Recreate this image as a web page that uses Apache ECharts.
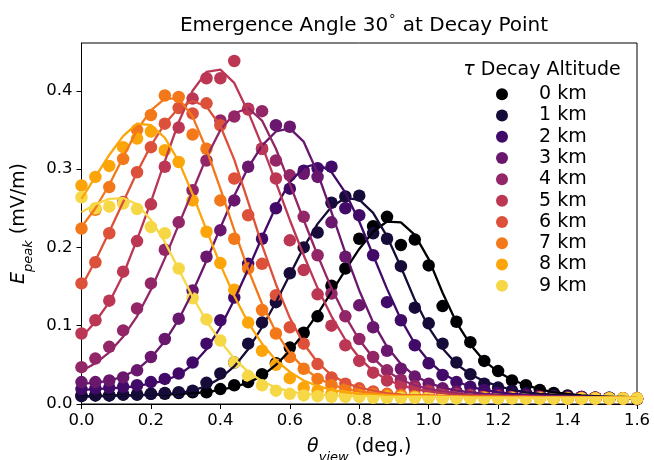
<!DOCTYPE html>
<html>
<head>
<meta charset="utf-8">
<script src="https://cdn.jsdelivr.net/npm/echarts@6/dist/echarts.min.js"></script>
<style>
  html, body { margin: 0; padding: 0; background: #fff; }
  #chart { width: 654px; height: 460px; }
</style>
</head>
<body>
<div id="chart"></div>
<script>
// viewing angle grid (deg.)
var thetaView = [0.00, 0.04, 0.08, 0.12, 0.16, 0.20, 0.24, 0.28, 0.32, 0.36,
  0.40, 0.44, 0.48, 0.52, 0.56, 0.60, 0.64, 0.68, 0.72, 0.76,
  0.80, 0.84, 0.88, 0.92, 0.96, 1.00, 1.04, 1.08, 1.12, 1.16,
  1.20, 1.24, 1.28, 1.32, 1.36, 1.40, 1.44, 1.48, 1.52, 1.56, 1.60];

var altitudes = ['0 km', '1 km', '2 km', '3 km', '4 km', '5 km', '6 km', '7 km', '8 km', '9 km'];
var colors = ['#000004', '#160b39', '#420a68', '#6a176e', '#932667',
  '#bc3754', '#dd513a', '#f37819', '#fca50a', '#f6d746'];

// simulated peak field (points)
var peak0 = [0.011,0.011,0.011,0.012,0.012,0.013,0.013,0.014,0.015,0.015,
  0.019,0.024,0.028,0.038,0.052,0.072,0.091,0.112,0.151,0.173,
  0.211,0.227,0.239,0.203,0.210,0.177,0.125,0.105,0.079,0.055,
  0.042,0.030,0.024,0.018,0.014,0.011,0.009,0.008,0.007,0.007,0.006];
var peak1 = [0.010,0.011,0.011,0.012,0.012,0.013,0.014,0.015,0.017,0.027,
  0.039,0.053,0.077,0.104,0.130,0.167,0.200,0.219,0.257,0.265,
  0.266,0.218,0.211,0.176,0.123,0.103,0.077,0.053,0.038,0.026,
  0.021,0.017,0.014,0.012,0.011,0.010,0.009,0.008,0.008,0.007,0.007];
var peak2 = [0.019,0.020,0.021,0.022,0.024,0.028,0.032,0.039,0.053,0.077,
  0.107,0.136,0.179,0.211,0.250,0.275,0.298,0.301,0.303,0.250,
  0.241,0.190,0.130,0.107,0.075,0.052,0.037,0.028,0.022,0.018,
  0.015,0.013,0.012,0.011,0.010,0.009,0.009,0.008,0.008,0.007,0.007];
var peak3 = [0.028,0.028,0.030,0.034,0.043,0.060,0.083,0.109,0.145,0.188,
  0.222,0.260,0.303,0.326,0.356,0.354,0.294,0.290,0.232,0.188,
  0.126,0.098,0.068,0.045,0.035,0.026,0.020,0.016,0.013,0.012,
  0.011,0.010,0.010,0.009,0.009,0.008,0.008,0.008,0.007,0.007,0.007];
var peak4 = [0.047,0.058,0.073,0.094,0.122,0.154,0.197,0.232,0.273,0.311,
  0.362,0.367,0.377,0.374,0.311,0.292,0.239,0.190,0.141,0.112,
  0.083,0.060,0.043,0.031,0.023,0.018,0.015,0.013,0.011,0.010,
  0.010,0.009,0.009,0.009,0.008,0.008,0.008,0.008,0.007,0.007,0.007];
var peak5 = [0.090,0.107,0.132,0.169,0.208,0.255,0.303,0.353,0.390,0.416,
  0.416,0.438,0.376,0.326,0.288,0.209,0.171,0.140,0.100,0.075,
  0.055,0.040,0.030,0.024,0.019,0.016,0.014,0.012,0.011,0.010,
  0.010,0.009,0.009,0.009,0.008,0.008,0.008,0.008,0.007,0.007,0.007];
var peak6 = [0.154,0.181,0.218,0.258,0.296,0.328,0.358,0.378,0.371,0.384,
  0.356,0.288,0.241,0.179,0.139,0.098,0.077,0.051,0.034,0.026,
  0.020,0.016,0.013,0.012,0.011,0.010,0.010,0.009,0.009,0.009,
  0.008,0.008,0.008,0.008,0.008,0.007,0.007,0.007,0.007,0.007,0.007];
var peak7 = [0.224,0.248,0.277,0.313,0.350,0.369,0.394,0.392,0.344,0.326,
  0.260,0.211,0.173,0.120,0.090,0.060,0.045,0.032,0.024,0.019,
  0.016,0.013,0.012,0.011,0.010,0.010,0.009,0.009,0.009,0.008,
  0.008,0.008,0.008,0.008,0.007,0.007,0.007,0.007,0.007,0.007,0.007];
var peak8 = [0.279,0.290,0.304,0.328,0.339,0.348,0.324,0.309,0.260,0.220,
  0.180,0.146,0.104,0.068,0.050,0.033,0.021,0.017,0.013,0.012,
  0.011,0.010,0.010,0.009,0.009,0.009,0.008,0.008,0.008,0.008,
  0.008,0.008,0.007,0.007,0.007,0.007,0.007,0.007,0.007,0.007,0.007];
var peak9 = [0.264,0.250,0.252,0.256,0.249,0.226,0.218,0.173,0.135,0.108,
  0.081,0.053,0.036,0.024,0.017,0.013,0.011,0.010,0.009,0.009,
  0.009,0.008,0.008,0.008,0.008,0.008,0.007,0.007,0.007,0.007,
  0.007,0.007,0.007,0.007,0.007,0.007,0.007,0.007,0.007,0.007,0.007];

// fitted curves
var fit0 = [0.010,0.010,0.011,0.011,0.011,0.012,0.012,0.013,0.014,0.015,
  0.018,0.022,0.027,0.036,0.050,0.068,0.090,0.115,0.143,0.171,
  0.198,0.220,0.233,0.232,0.216,0.185,0.142,0.104,0.076,0.055,
  0.041,0.031,0.024,0.019,0.015,0.013,0.011,0.010,0.009,0.009,0.008];
var fit1 = [0.009,0.010,0.010,0.011,0.011,0.012,0.013,0.014,0.017,0.023,
  0.033,0.048,0.070,0.098,0.130,0.165,0.200,0.230,0.252,0.263,
  0.261,0.244,0.214,0.175,0.133,0.098,0.071,0.051,0.038,0.029,
  0.023,0.018,0.015,0.013,0.012,0.011,0.010,0.009,0.009,0.008,0.008];
var fit2 = [0.018,0.019,0.020,0.021,0.023,0.026,0.030,0.037,0.050,0.070,
  0.098,0.133,0.172,0.213,0.252,0.283,0.302,0.307,0.296,0.270,
  0.233,0.190,0.147,0.108,0.077,0.055,0.039,0.029,0.022,0.018,
  0.015,0.013,0.012,0.011,0.010,0.010,0.009,0.009,0.008,0.008,0.008];
var fit3 = [0.026,0.027,0.030,0.035,0.044,0.059,0.080,0.108,0.143,0.183,
  0.225,0.266,0.302,0.330,0.348,0.352,0.335,0.295,0.245,0.193,
  0.145,0.104,0.073,0.051,0.036,0.027,0.021,0.017,0.015,0.013,
  0.012,0.011,0.011,0.010,0.010,0.009,0.009,0.009,0.008,0.008,0.008];
var fit4 = [0.042,0.052,0.066,0.086,0.112,0.146,0.186,0.229,0.272,0.315,
  0.350,0.371,0.378,0.362,0.326,0.281,0.235,0.190,0.148,0.112,
  0.082,0.059,0.042,0.031,0.024,0.019,0.016,0.014,0.012,0.011,
  0.011,0.010,0.010,0.009,0.009,0.009,0.008,0.008,0.008,0.008,0.008];
var fit5 = [0.085,0.105,0.130,0.165,0.210,0.258,0.310,0.360,0.400,0.424,
  0.427,0.410,0.373,0.330,0.283,0.235,0.190,0.148,0.112,0.082,
  0.059,0.042,0.031,0.024,0.019,0.016,0.014,0.012,0.011,0.011,
  0.010,0.010,0.010,0.009,0.009,0.009,0.009,0.008,0.008,0.008,0.008];
var fit6 = [0.150,0.183,0.220,0.258,0.296,0.330,0.358,0.378,0.387,0.380,
  0.355,0.312,0.258,0.203,0.153,0.110,0.077,0.053,0.037,0.027,
  0.021,0.017,0.014,0.012,0.011,0.011,0.010,0.010,0.010,0.009,
  0.009,0.009,0.009,0.009,0.008,0.008,0.008,0.008,0.008,0.008,0.008];
var fit7 = [0.226,0.250,0.280,0.315,0.350,0.375,0.390,0.390,0.367,0.325,
  0.275,0.222,0.172,0.128,0.092,0.065,0.046,0.033,0.025,0.019,
  0.016,0.014,0.012,0.011,0.011,0.010,0.010,0.010,0.009,0.009,
  0.009,0.009,0.009,0.008,0.008,0.008,0.008,0.008,0.008,0.008,0.008];
var fit8 = [0.262,0.290,0.318,0.342,0.358,0.356,0.340,0.310,0.268,0.222,
  0.178,0.138,0.104,0.077,0.056,0.041,0.030,0.023,0.018,0.015,
  0.013,0.012,0.011,0.010,0.010,0.010,0.009,0.009,0.009,0.009,
  0.009,0.008,0.008,0.008,0.008,0.008,0.008,0.008,0.008,0.008,0.008];
var fit9 = [0.245,0.255,0.262,0.263,0.255,0.235,0.207,0.172,0.137,0.106,
  0.080,0.058,0.041,0.029,0.021,0.016,0.013,0.012,0.011,0.010,
  0.010,0.010,0.009,0.009,0.009,0.009,0.009,0.009,0.008,0.008,
  0.008,0.008,0.008,0.008,0.008,0.008,0.008,0.008,0.008,0.008,0.008];

var xTicks = [0.0, 0.2, 0.4, 0.6, 0.8, 1.0, 1.2, 1.4, 1.6];
var yTicks = [0.0, 0.1, 0.2, 0.3, 0.4];

var peaks = [peak0, peak1, peak2, peak3, peak4, peak5, peak6, peak7, peak8, peak9];
var fits = [fit0, fit1, fit2, fit3, fit4, fit5, fit6, fit7, fit8, fit9];

var FONT = 'DejaVu Sans';
var BIG = 19;

function pairs(ys) {
  return thetaView.map(function (x, i) { return [x, ys[i]]; });
}

var series = [];
for (var k = 0; k < altitudes.length; k++) {
  series.push({
    name: altitudes[k],
    type: 'scatter',
    data: pairs(peaks[k]),
    symbolSize: 12.5,
    itemStyle: { color: colors[k], opacity: 1 },
    z: 2,
    animation: false
  });
}
for (var k = 0; k < altitudes.length; k++) {
  series.push({
    name: 'fit ' + altitudes[k],
    type: 'line',
    data: pairs(fits[k]),
    showSymbol: false,
    symbol: 'none',
    lineStyle: { color: colors[k], width: 2.3 },
    itemStyle: { color: colors[k] },
    z: 3,
    clip: true,
    animation: false
  });
}

var chart = echarts.init(document.getElementById('chart'), null, { renderer: 'canvas' });
chart.setOption({
  backgroundColor: '#ffffff',
  animation: false,
  textStyle: { fontFamily: FONT },
  title: [{
    text: '{n|Emergence Angle 30}{d|\u2218}{n| at Decay Point}',
    left: 359, top: 5, textAlign: 'center',
    textStyle: {
      fontWeight: 'normal',
      rich: {
        n: { fontFamily: FONT, fontSize: 20, fontWeight: 'normal', color: '#000', lineHeight: 26, verticalAlign: 'bottom' },
        d: { fontFamily: FONT, fontSize: 13, fontWeight: 'normal', color: '#000', lineHeight: 26, verticalAlign: 'top' }
      }
    }
  }, {
    text: '{t|\u03c4}{n| Decay Altitude}',
    left: 537, top: 56, textAlign: 'center',
    textStyle: {
      fontWeight: 'normal',
      rich: {
        t: { fontFamily: FONT, fontSize: BIG, fontStyle: 'italic', fontWeight: 'normal', color: '#000' },
        n: { fontFamily: FONT, fontSize: BIG, fontWeight: 'normal', color: '#000' }
      }
    }
  }],
  legend: {
    data: altitudes,
    orient: 'vertical',
    left: 491, top: 78.5,
    itemWidth: 24, itemHeight: 12,
    itemGap: 0,
    icon: 'circle',
    selectedMode: false,
    textStyle: { fontFamily: FONT, fontSize: BIG, color: '#000', lineHeight: 21.3, padding: [0, 0, 0, 20] }
  },
  grid: {
    left: 81.5, right: 17, top: 43, bottom: 56,
    outerBoundsMode: 'none',
    containLabel: false,
    show: true, borderColor: '#000', borderWidth: 1, backgroundColor: 'transparent'
  },
  xAxis: {
    type: 'value',
    min: xTicks[0], max: xTicks[xTicks.length - 1], interval: 0.2,
    name: '{t|\u03b8}{s|view}{n| (deg.)}',
    nameLocation: 'middle', nameGap: 34,
    nameTextStyle: {
      rich: {
        t: { fontFamily: FONT, fontSize: BIG, fontStyle: 'italic', color: '#000', lineHeight: 26, verticalAlign: 'top' },
        s: { fontFamily: FONT, fontSize: 13, fontStyle: 'italic', color: '#000', lineHeight: 26, verticalAlign: 'bottom' },
        n: { fontFamily: FONT, fontSize: BIG, color: '#000', lineHeight: 26, verticalAlign: 'top' }
      }
    },
    axisLine: { show: true, lineStyle: { color: '#000', width: 1 } },
    axisTick: { show: true, inside: false, length: 5, lineStyle: { color: '#000' } },
    axisLabel: { fontFamily: FONT, fontSize: 16.5, color: '#000', margin: 8,
      formatter: function (v) { return v.toFixed(1); } },
    splitLine: { show: false }
  },
  yAxis: {
    type: 'value',
    min: yTicks[0], max: 0.461, interval: 0.1,
    name: '{e|E}{s|peak}{n| (mV/m)}',
    nameLocation: 'middle', nameGap: 44, nameRotate: 90,
    nameTextStyle: {
      rich: {
        e: { fontFamily: FONT, fontSize: BIG, fontStyle: 'italic', color: '#000', lineHeight: 26, verticalAlign: 'top' },
        s: { fontFamily: FONT, fontSize: 13, fontStyle: 'italic', color: '#000', lineHeight: 26, verticalAlign: 'bottom' },
        n: { fontFamily: FONT, fontSize: BIG, color: '#000', lineHeight: 26, verticalAlign: 'top' }
      }
    },
    axisLine: { show: true, lineStyle: { color: '#000', width: 1 } },
    axisTick: { show: true, inside: false, length: 5, lineStyle: { color: '#000' } },
    axisLabel: { fontFamily: FONT, fontSize: 16.5, color: '#000', margin: 9, showMaxLabel: false,
      formatter: function (v) { return v.toFixed(1); } },
    splitLine: { show: false }
  },
  series: series
});
</script>
</body>
</html>
